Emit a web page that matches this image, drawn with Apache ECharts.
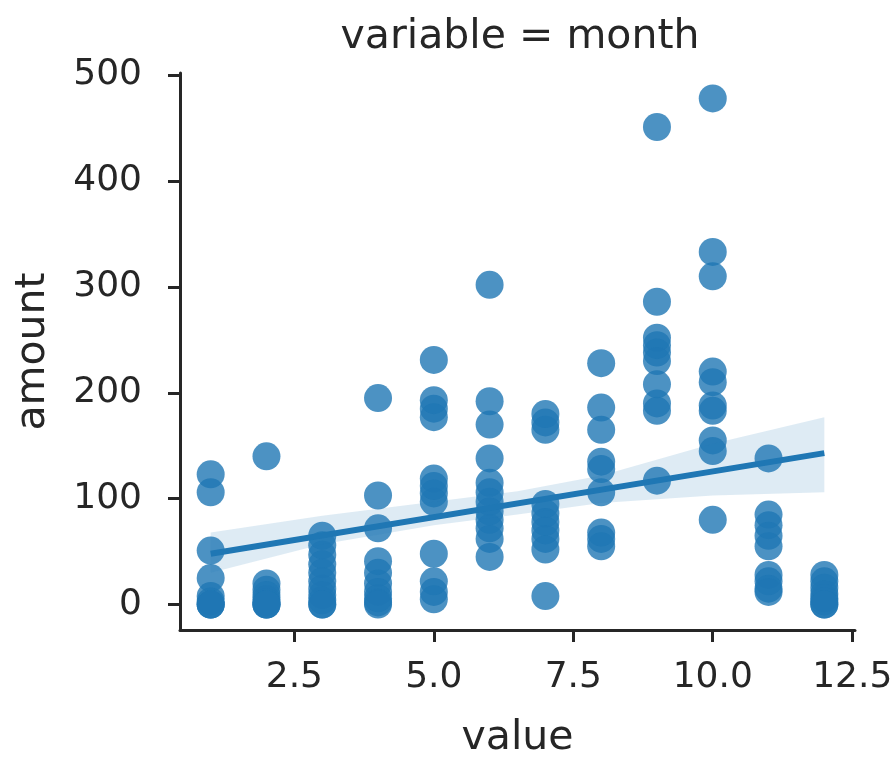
<!DOCTYPE html>
<html>
<head>
<meta charset="utf-8">
<script src="https://cdn.jsdelivr.net/npm/echarts@6/dist/echarts.min.js"></script>
<style>
    html, body { margin: 0; padding: 0; background: #fff; }
    #main { width: 896px; height: 757px; }
</style>
</head>
<body>
<div id="main"></div>
<script>
// month on x, amount values for each month
const months = [1, 2, 3, 4, 5, 6, 7, 8, 9, 10, 11, 12];
const amounts = [
    [123, 106, 51, 25, 8, 3, 0, 0, 0],
    [140, 20, 14, 9, 5, 2, 0, 0, 0],
    [65, 56, 47, 38, 30, 22, 15, 9, 4, 0, 0],
    [195, 103, 72, 41, 30, 20, 12, 6, 2, 0],
    [231, 193, 185, 177, 119, 112, 105, 97, 48, 22, 12, 5],
    [302, 192, 170, 138, 115, 106, 97, 88, 80, 72, 62, 45],
    [180, 172, 165, 95, 86, 78, 70, 62, 52, 8],
    [228, 186, 165, 135, 128, 106, 68, 62, 55],
    [451, 286, 252, 245, 238, 230, 208, 190, 183, 117],
    [478, 333, 310, 220, 210, 188, 183, 155, 145, 80],
    [138, 85, 75, 65, 55, 28, 22, 15, 12],
    [28, 22, 16, 10, 6, 3, 0, 0]
];
// regression line and its confidence band
const fitX = [1, 12];
const fitY = [48, 143];
const bandX = [1, 3, 5, 6.5, 8, 10, 12];
const bandLow = [30, 57, 75, 85, 96, 103, 106];
const bandHigh = [68, 84, 97, 107, 122, 152, 177];
// tick labels
const xTicks = [2.5, 5, 7.5, 10, 12.5];
const yTicks = [0, 100, 200, 300, 400, 500];

const textColor = '#262626';
const blue = '#1f77b4';

var points = [];
for (var i = 0; i < months.length; i++) {
    for (var j = 0; j < amounts[i].length; j++) {
        points.push([months[i], amounts[i][j]]);
    }
}
var band = [];
for (var i = 0; i < bandX.length; i++) {
    band.push([bandX[i], bandLow[i], bandHigh[i]]);
}

var chart = echarts.init(document.getElementById('main'));
option = {
    animation: false,
    textStyle: { fontFamily: 'DejaVu Sans' },
    title: {
        text: 'variable = month',
        left: 515,
        textAlign: 'center',
        top: 12,
        textStyle: { fontSize: 41, fontWeight: 'normal', color: textColor, fontFamily: 'DejaVu Sans' }
    },
    grid: { left: 180, right: 41, top: 73, bottom: 127, outerBoundsMode: 'none', containLabel: false },
    xAxis: {
        type: 'value',
        min: 0.45,
        max: 12.55,
        name: 'value',
        nameLocation: 'middle',
        nameGap: 88,
        nameTextStyle: { fontSize: 41, color: textColor },
        splitLine: { show: false },
        axisLine: { onZero: false, lineStyle: { color: textColor, width: 3 } },
        axisTick: { customValues: xTicks, length: 12, lineStyle: { color: textColor, width: 3 } },
        axisLabel: {
            customValues: xTicks,
            fontSize: 36,
            color: textColor,
            margin: 30,
            formatter: function (v) { return v.toFixed(1); }
        }
    },
    yAxis: {
        type: 'value',
        min: -24,
        max: 502,
        name: 'amount',
        nameLocation: 'middle',
        nameGap: 126,
        nameTextStyle: { fontSize: 41, color: textColor },
        splitLine: { show: false },
        axisLine: { show: true, onZero: false, lineStyle: { color: textColor, width: 3 } },
        axisTick: { show: true, customValues: yTicks, length: 12, lineStyle: { color: textColor, width: 3 } },
        axisLabel: {
            customValues: yTicks,
            fontSize: 36,
            color: textColor,
            margin: 38
        }
    },
    series: [
        {
            type: 'scatter',
            data: points,
            symbolSize: 28,
            itemStyle: { color: blue, opacity: 0.8 },
            z: 2
        },
        {
            type: 'custom',
            data: band,
            z: 3,
            renderItem: function (params, api) {
                if (params.dataIndex !== 0) return;
                var top = [], bottom = [];
                for (var i = 0; i < band.length; i++) {
                    top.push(api.coord([band[i][0], band[i][2]]));
                    bottom.unshift(api.coord([band[i][0], band[i][1]]));
                }
                return {
                    type: 'polygon',
                    shape: { points: top.concat(bottom) },
                    style: { fill: blue, opacity: 0.15 }
                };
            }
        },
        {
            type: 'line',
            data: [[fitX[0], fitY[0]], [fitX[1], fitY[1]]],
            symbol: 'none',
            lineStyle: { color: blue, width: 6 },
            z: 4
        }
    ]
};
chart.setOption(option);
</script>
</body>
</html>
